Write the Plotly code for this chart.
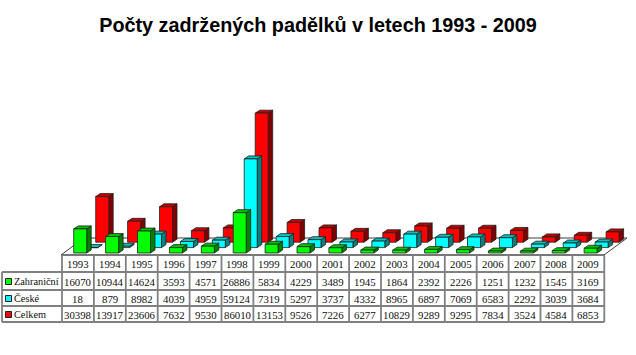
import plotly.graph_objects as go

years = ["1993","1994","1995","1996","1997","1998","1999","2000","2001","2002","2003","2004","2005","2006","2007","2008","2009"]
zahranicni = [16070,10944,14624,3593,4571,26886,5834,4229,3489,1945,1864,2392,2226,1251,1232,1545,3169]
ceske = [18,879,8982,4039,4959,59124,7319,5297,3737,4332,8965,6897,7069,6583,2292,3039,3684]
celkem = [30398,13917,23606,7632,9530,86010,13153,9526,7226,6277,10829,9289,9295,7834,3524,4584,6853]
names = ["Zahraniční", "České", "Celkem"]

W, H = 636, 355
COL0, COLW = 62.0, 31.9      # table columns, px
BASE_Y, PX_PER_UNIT = 253.0, 0.0015
X0_PX = 80.2                 # bar-centre of first category, series 0

def px_x(p): return (p - X0_PX) / COLW
def px_h(p): return p / PX_PER_UNIT

series = [
    (celkem, 2, "#ff0000", "#c00000", "#800000"),
    (ceske, 1, "#00ffff", "#00c0c0", "#008080"),
    (zahranicni, 0, "#00ff00", "#00c000", "#008000"),
]
BAR_W = px_x(13) - px_x(0)
DEP_X = px_x(4.5) - px_x(0)
DEP_Y = px_h(3)
SH_X = px_x(11) - px_x(0)
SH_Y = px_h(5.4)

fig = go.Figure()

# floor
n = len(years)
fl_x = [px_x(61), px_x(604), px_x(627), px_x(84), px_x(61)]
fl_y = [px_h(BASE_Y - 255)] * 2 + [px_h(BASE_Y - 238)] * 2 + [px_h(BASE_Y - 255)]
fig.add_trace(go.Scatter(x=fl_x, y=fl_y, mode="lines", fill="toself", fillcolor="white",
                         line=dict(color="#404040", width=1), hoverinfo="skip", showlegend=False))

def add_poly(xs, ys, fill):
    fig.add_trace(go.Scatter(x=xs, y=ys, mode="lines", fill="toself", fillcolor=fill,
                             line=dict(color="#202020", width=0.8), hoverinfo="skip", showlegend=False))

for vals, k, front, top, side in series:
    fx, fy, tx, ty, sx, sy = [], [], [], [], [], []
    for i, v in enumerate(vals):
        l = i + k * SH_X - BAR_W / 2
        r = l + BAR_W
        b = k * SH_Y
        t = b + v
        fx += [l, r, r, l, l, None]
        fy += [b, b, t, t, b, None]
        tx += [l, r, r + DEP_X, l + DEP_X, l, None]
        ty += [t, t, t + DEP_Y, t + DEP_Y, t, None]
        sx += [r, r + DEP_X, r + DEP_X, r, r, None]
        sy += [b, b + DEP_Y, t + DEP_Y, t, b, None]
    add_poly(sx, sy, side)
    add_poly(tx, ty, top)
    add_poly(fx, fy, front)

def xp(p): return p / W
def yp(p): return 1 - p / H

shapes, ann = [], []
GRID = "#808080"
rows = [255, 272, 290, 306, 322]
COL_END = COL0 + COLW * n
def line(x0, y0, x1, y1, w=1.8, c=GRID):
    shapes.append(dict(type="line", xref="paper", yref="paper", x0=xp(x0), x1=xp(x1),
                       y0=yp(y0), y1=yp(y1), line=dict(color=c, width=w)))
line(COL0, rows[0], COL_END, rows[0], 1.2, "#505050")
for r in rows[1:]:
    line(2, r, COL_END, r)
line(2, rows[1], 2, rows[-1])
for j in range(n + 1):
    line(COL0 + COLW * j, rows[0], COL0 + COLW * j, rows[-1])

def text(x, y, s, anchor="center", size=10.8):
    ann.append(dict(xref="paper", yref="paper", x=xp(x), y=yp(y), text=s, showarrow=False,
                    xanchor=anchor, yanchor="middle", borderpad=0, borderwidth=0,
                    font=dict(family="Liberation Serif", size=size, color="#101010")))
table = [years, zahranicni, ceske, celkem]
for r, rowvals in enumerate(table):
    for j, v in enumerate(rowvals):
        text(COL0 + COLW * (j + 0.5), (rows[r] + rows[r + 1]) / 2 + 0.5, str(v))
cols = ["#00ff00", "#00ffff", "#ff0000"]
for r, (nm, c) in enumerate(zip(names, cols)):
    cy = (rows[r + 1] + rows[r + 2]) / 2 + 0.5
    text(13.5, cy, nm, "left", 10.3)
    shapes.append(dict(type="rect", xref="paper", yref="paper", x0=xp(5.5), x1=xp(11.5),
                       y0=yp(cy + 3), y1=yp(cy - 3), fillcolor=c, line=dict(color="#202020", width=1)))

fig.update_layout(
    width=W, height=H, margin=dict(l=0, r=0, t=0, b=0),
    paper_bgcolor="white", plot_bgcolor="white", showlegend=False, hovermode=False,
    title=dict(text="<b>Počty zadržených padělků v letech 1993 - 2009</b>",
               x=0.5, xanchor="center", y=1 - 25 / H, yanchor="middle",
               font=dict(family="Liberation Sans", size=19.8, color="black")),
    xaxis=dict(visible=False, range=[px_x(0), px_x(W)], fixedrange=True),
    yaxis=dict(visible=False, range=[px_h(BASE_Y - H), px_h(BASE_Y)], fixedrange=True),
    shapes=shapes, annotations=ann,
)
fig.write_html("out.html", config=dict(displayModeBar=False),
               post_script="document.body.style.margin='0';document.body.style.overflow='hidden';")
